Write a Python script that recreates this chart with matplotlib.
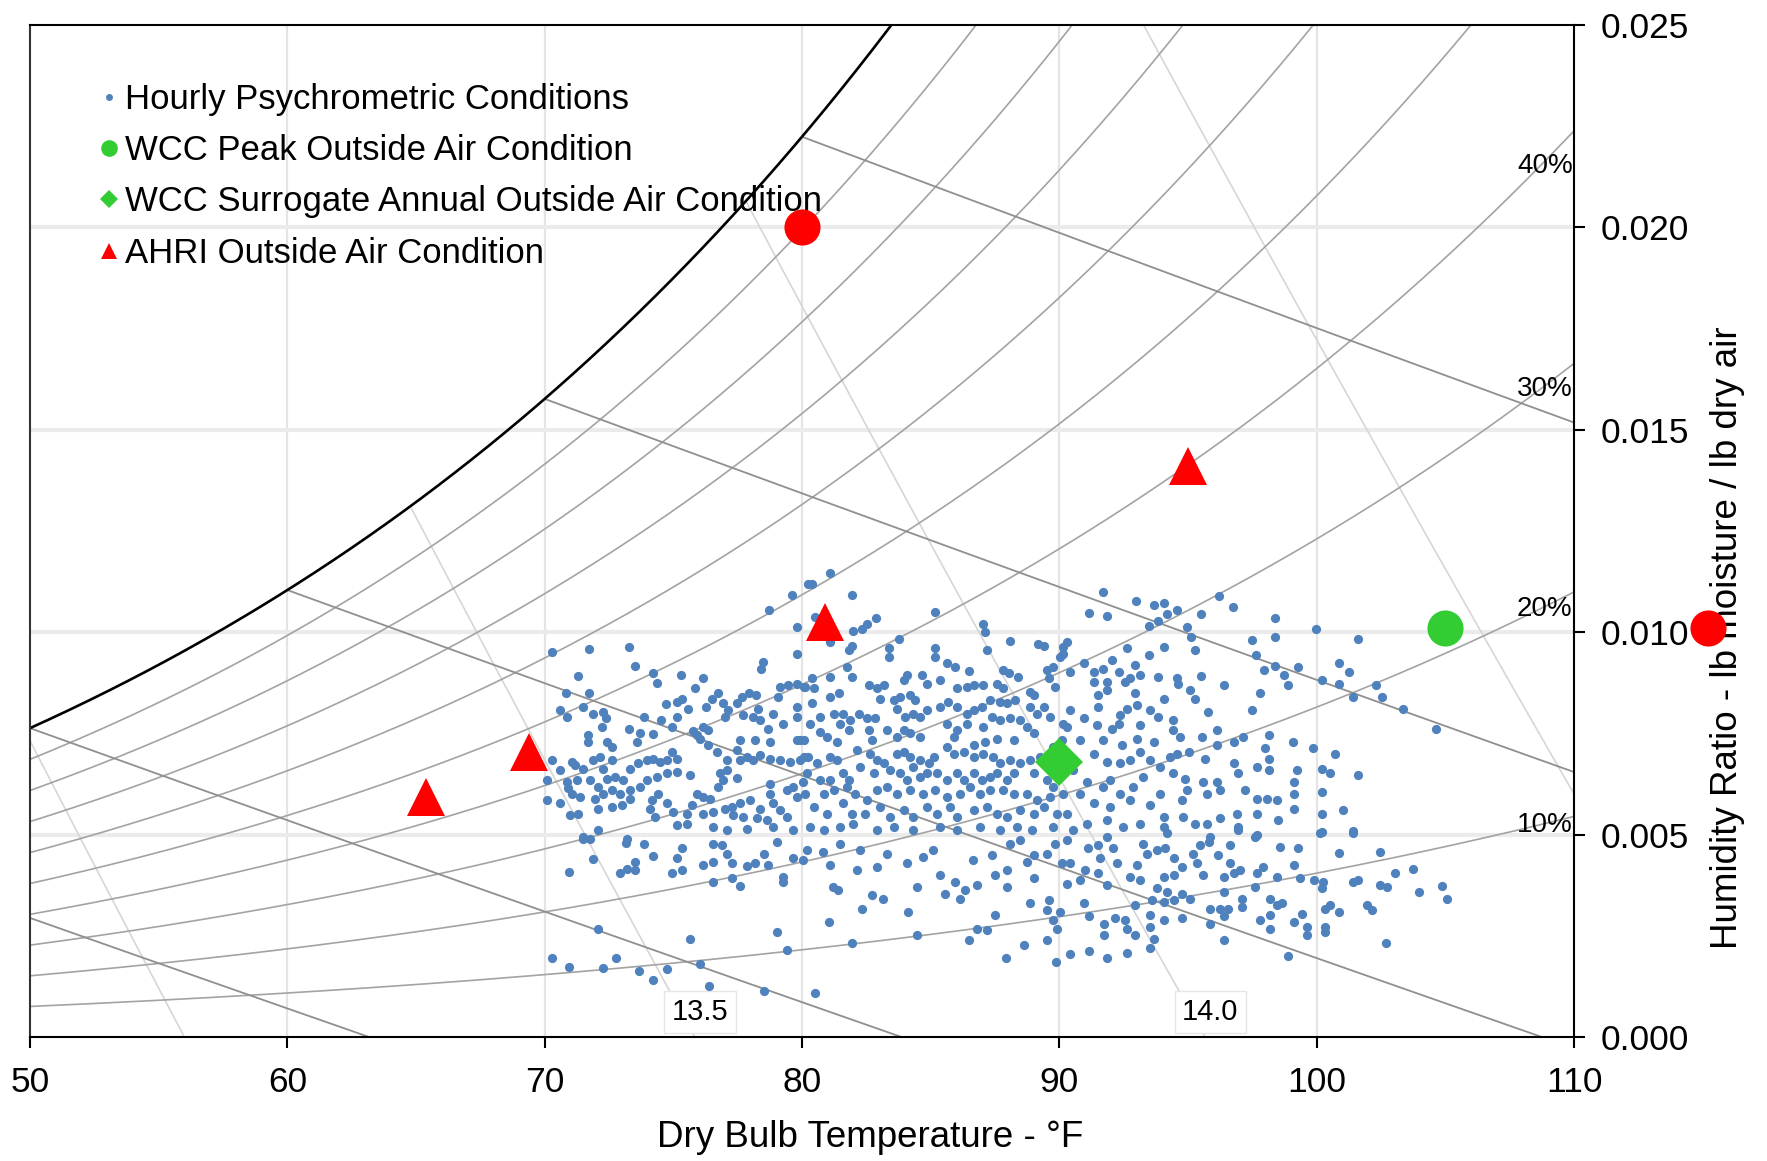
import numpy as np
import matplotlib
matplotlib.use("Agg")
import matplotlib.pyplot as plt
from matplotlib.lines import Line2D
from matplotlib.ticker import FormatStrFormatter

plt.rcParams['font.family'] = ['Liberation Sans', 'DejaVu Sans']

# ---------------- data ----------------
x_ticks = [50, 60, 70, 80, 90, 100, 110]
y_ticks = [0.000, 0.005, 0.010, 0.015, 0.020, 0.025]
rh_levels = [0.1, 0.2, 0.3, 0.4, 0.5, 0.6, 0.7, 0.8, 0.9]
rh_labels = {0.1: "10%", 0.2: "20%", 0.3: "30%", 0.4: "40%"}
wb_levels = [40, 50, 60, 70, 80]
vol_levels = [13.0, 13.5, 14.0, 14.5]
vol_labels = {13.5: "13.5", 14.0: "14.0"}

legend_labels = ["Hourly Psychrometric Conditions",
                 "WCC Peak Outside Air Condition",
                 "WCC Surrogate Annual Outside Air Condition",
                 "AHRI Outside Air Condition"]

peak_t = [105.0]
peak_w = [0.0101]
surrogate_t = [90.0]
surrogate_w = [0.0068]
ahri_t = [65.4, 69.4, 80.9, 95.0]
ahri_w = [0.00593, 0.00704, 0.01024, 0.01411]
red_circle_t = [80.0, 115.2]
red_circle_w = [0.0200, 0.0101]

# hourly conditions: (dry bulb degF, humidity ratio in 1e-3 lb/lb)
hourly = [
 (80.25,11.20),(79.63,10.92),(78.73,10.56),(79.79,10.12),(70.27,9.51),(71.72,9.58),(73.29,9.64),(79.79,9.45),
 (73.51,9.16),(78.47,9.27),(78.40,9.08),(71.31,8.91),(74.22,8.99),(74.38,8.75),(75.29,8.95),(76.17,8.86),
 (75.84,8.63),(70.83,8.50),(71.74,8.50),(70.60,8.07),(70.86,7.91),(71.50,8.14),(71.87,7.97),(72.28,8.03),
 (72.38,7.87),(72.22,7.66),(73.29,7.62),(73.86,7.91),(74.72,8.22),(75.13,8.28),(75.33,8.34),(75.58,8.11),
 (75.13,7.91),(74.94,7.66),(74.51,7.84),(73.71,7.50),(74.20,7.48),(73.58,7.29),(71.70,7.46),(71.70,7.29),
 (72.41,7.29),(72.60,7.17),(75.78,7.56),(75.91,7.46),(76.17,7.66),(76.36,7.58),(76.27,8.16),(76.49,8.36),
 (76.75,8.49),(76.92,8.25),(77.14,8.07),(77.01,7.91),(77.46,8.25),(77.66,8.40),(77.95,8.49),(78.21,8.44),
 (77.72,7.95),(78.11,7.91),(78.37,7.83),(78.69,7.62),(78.89,7.99),(78.30,8.11),(79.15,8.65),(79.47,8.69),
 (79.79,8.73),(80.12,8.65),(79.08,8.40),(79.28,7.74),(79.79,8.16),(79.79,7.91),(79.79,7.33),(79.92,7.33),
 (78.76,7.29),(78.17,7.33),(77.59,7.33),(77.46,7.08),(77.59,6.84),(77.85,6.92),(78.11,6.84),(78.37,6.96),
 (78.76,6.88),(79.15,6.84),(79.53,6.80),(79.92,6.84),(80.25,6.92),(77.07,6.84),(76.69,7.04),(76.36,7.21),
 (76.04,7.37),(70.27,6.84),(71.05,6.80),(71.18,6.71),(71.50,6.63),(71.89,6.84),(72.15,6.92),(72.60,6.84),
 (72.28,6.63),(70.60,6.59),(70.08,6.34),(70.86,6.30),(70.92,6.14),(71.24,6.34),(71.76,6.34),(72.09,6.18),
 (72.41,6.38),(72.73,6.43),(73.06,6.34),(73.32,6.63),(73.64,6.76),(73.97,6.84),(74.22,6.88),(74.48,6.80),
 (74.74,6.84),(74.94,7.04),(75.13,6.88),(75.13,6.55),(74.74,6.51),(74.35,6.43),(73.97,6.34),(73.71,6.18),
 (73.32,6.10),(72.93,6.01),(72.60,6.10),(72.28,6.01),(71.96,5.89),(71.37,5.93),(71.05,6.01),(70.08,5.85),
 (70.60,5.78),(70.99,5.48),(71.31,5.52),(72.09,5.64),(72.60,5.68),(72.99,5.73),(73.32,5.87),(74.16,5.85),
 (74.42,6.01),(74.09,5.64),(74.74,5.77),(75.00,5.56),(74.29,5.44),(75.65,6.47),(76.81,6.51),(77.07,6.59),
 (77.46,6.41),(76.94,6.34),(76.75,6.18),(75.91,6.01),(76.17,5.93),(76.43,5.89),(75.71,5.73),(75.52,5.52),
 (76.17,5.52),(76.56,5.56),(77.01,5.64),(77.27,5.68),(77.59,5.77),(77.98,5.85),(78.37,5.64),(78.76,6.26),
 (78.76,6.01),(78.89,5.77),(79.15,5.60),(79.41,6.10),(79.66,6.18),(79.79,5.93),(80.05,6.30),(77.33,5.48),
 (77.72,5.44),(78.24,5.40),(78.63,5.36),(78.89,5.19),(79.41,5.44),(75.13,5.23),(75.52,5.27),(76.56,5.19),
 (72.09,5.12),(71.50,4.94),(73.19,4.88),(77.07,5.11),(77.85,5.15),(79.66,5.11),
 (81.07,11.47),(80.38,11.20),(81.94,10.92),(80.51,10.38),(85.18,10.50),(87.05,10.21),(87.12,10.01),(82.88,10.36),
 (82.52,10.20),(82.33,10.09),(82.00,10.03),(81.10,9.76),(81.94,9.65),(81.81,9.57),(83.75,9.83),(83.40,9.62),
 (83.40,9.39),(85.18,9.62),(85.18,9.39),(87.18,9.57),(88.09,9.79),(89.19,9.72),(89.39,9.65),(90.16,9.64),
 (90.03,9.39),(81.74,9.14),(81.10,8.90),(81.94,8.90),(80.38,8.86),(80.06,8.65),(80.45,8.61),(82.59,8.69),
 (82.91,8.61),(83.17,8.69),(83.04,8.36),(84.08,8.94),(83.95,8.81),(84.66,8.94),(84.85,8.73),(85.37,8.81),
 (85.63,9.23),(85.95,9.13),(86.47,9.05),(86.02,8.61),(86.41,8.65),(86.67,8.69),(87.05,8.69),(87.57,8.73),
 (87.83,9.06),(88.03,8.98),(88.41,8.90),(89.52,9.06),(89.77,9.14),(89.58,8.86),(89.84,8.65),(88.87,8.53),
 (89.00,8.44),(87.83,8.61),(80.38,8.24),(81.10,8.40),(81.42,8.49),(80.71,7.91),(81.23,7.99),(81.61,7.99),
 (81.48,7.74),(81.87,7.83),(82.20,7.99),(82.52,7.87),(82.84,7.87),(83.56,8.32),(83.82,8.40),(84.20,8.44),
 (84.40,8.32),(83.69,8.11),(84.01,7.91),(84.33,7.99),(84.59,7.91),(84.85,8.07),(85.37,8.16),(85.69,8.28),
 (86.02,8.16),(86.41,7.99),(86.67,8.07),(86.99,8.16),(87.31,8.32),(87.70,8.28),(87.96,8.24),(88.28,8.32),
 (88.87,8.16),(89.13,7.99),(89.39,8.16),(89.65,7.91),(90.16,7.74),(80.32,7.74),(80.71,7.54),(80.06,7.33),
 (80.97,7.41),(81.35,7.29),(81.81,7.58),(82.59,7.58),(82.71,7.33),(83.30,7.58),(83.69,7.41),(83.95,7.58),
 (84.20,7.50),(84.59,7.41),(85.63,7.74),(85.89,7.41),(86.02,7.58),(86.41,7.74),(87.05,7.66),(87.38,7.91),
 (87.70,7.83),(88.09,7.87),(88.48,7.83),(88.74,7.66),(89.00,7.50),(88.22,7.33),(87.57,7.37),(87.12,7.29),
 (86.67,7.21),(80.06,6.92),(80.58,6.76),(81.10,6.92),(81.35,6.84),(82.13,7.08),(82.65,7.00),(82.91,6.84),
 (83.17,6.76),(83.69,7.00),(83.95,7.04),(84.20,6.92),(84.59,6.84),(84.92,6.76),(85.11,6.92),(85.63,7.17),
 (85.89,7.00),(86.28,7.04),(86.67,6.92),(87.05,7.00),(87.44,6.92),(87.70,6.76),(88.09,6.84),(88.48,6.76),
 (88.87,6.84),(89.26,6.92),(89.77,7.17),(90.10,7.33),(80.19,6.51),(80.71,6.34),(81.10,6.34),(81.61,6.51),
 (81.81,6.34),(82.26,6.67),(82.78,6.51),(83.43,6.59),(83.82,6.51),(84.08,6.34),(84.33,6.67),(84.59,6.43),
 (84.85,6.51),(85.24,6.51),(85.63,6.34),(86.02,6.51),(86.28,6.34),(86.67,6.51),(86.99,6.34),(87.31,6.43),
 (87.57,6.51),(87.96,6.34),(88.22,6.51),(89.00,6.51),(89.52,6.34),(89.77,6.18),(80.12,6.01),(80.84,6.01),
 (81.23,6.10),(81.74,6.18),(82.07,6.01),(82.52,5.85),(82.91,6.10),(83.30,6.18),(83.69,6.01),(84.20,6.10),
 (84.72,6.01),(85.18,6.10),(85.63,5.93),(86.15,6.01),(86.54,6.18),(86.92,6.01),(87.31,6.10),(87.83,6.10),
 (88.22,6.01),(88.74,6.01),(89.13,5.85),(89.65,5.93),(90.16,6.01),(80.45,5.68),(80.97,5.52),(81.61,5.77),
 (81.94,5.52),(82.46,5.52),(83.04,5.68),(83.43,5.44),(83.95,5.60),(84.33,5.44),(84.85,5.68),(85.24,5.52),
 (85.76,5.68),(86.02,5.44),(86.67,5.60),(87.18,5.68),(87.57,5.52),(87.96,5.44),(88.48,5.60),(89.00,5.52),
 (89.39,5.68),(89.90,5.52),(80.32,5.19),(80.84,5.11),(81.48,5.19),(82.00,5.27),(82.91,5.11),(83.56,5.19),
 (84.33,5.11),(85.37,5.19),(86.02,5.11),(86.92,5.19),(87.70,5.11),(88.35,5.19),(88.94,5.11),(89.77,5.19),
 (91.71,11.00),(92.98,10.78),(93.66,10.67),(94.07,10.71),(94.59,10.54),(94.20,10.46),(93.85,10.28),(93.50,10.15),
 (91.17,10.48),(91.87,10.40),(95.50,10.45),(96.20,10.89),(96.74,10.63),(98.38,10.34),(98.38,9.89),(97.48,9.80),
 (99.97,10.09),(101.62,9.83),(94.95,10.13),(95.11,9.89),(95.28,9.57),(92.62,9.62),(94.05,9.64),(93.50,9.43),
 (90.29,9.76),(90.16,9.47),(90.96,9.23),(90.42,9.02),(91.33,9.02),(91.71,9.10),(92.04,9.31),(92.30,9.02),
 (92.94,9.19),(93.14,8.94),(92.75,8.86),(92.56,8.77),(91.84,8.77),(91.33,8.77),(91.84,8.57),(91.52,8.44),
 (93.85,8.90),(94.56,8.86),(94.63,8.73),(95.50,8.91),(96.38,8.69),(95.08,8.57),(95.28,8.36),(94.07,8.36),
 (92.94,8.50),(93.01,8.20),(92.62,8.11),(92.36,7.95),(91.52,8.16),(90.42,8.07),(90.94,7.87),(90.29,7.66),
 (91.45,7.70),(92.04,7.62),(92.30,7.74),(93.14,7.70),(93.53,8.07),(93.85,7.91),(94.41,7.84),(94.43,7.58),
 (94.69,7.41),(93.66,7.29),(93.01,7.37),(92.43,7.21),(91.71,7.33),(90.81,7.33),(91.33,7.00),(91.84,6.80),
 (92.36,6.76),(92.75,6.84),(93.14,7.04),(93.53,6.84),(93.92,6.67),(94.30,6.92),(94.56,7.00),(95.02,7.04),
 (95.54,7.41),(95.79,8.03),(96.12,7.58),(96.12,7.21),(96.77,7.29),(97.15,7.41),(97.48,8.07),(97.80,8.49),
 (97.65,9.43),(97.96,9.06),(98.38,9.16),(98.73,8.94),(98.88,8.69),(99.27,9.14),(100.20,8.81),(100.88,9.23),
 (100.88,8.72),(101.27,9.02),(101.43,8.40),(102.31,8.69),(102.53,8.40),(103.37,8.11),(104.64,7.62),(98.16,7.46),
 (98.00,7.13),(98.16,6.88),(98.16,6.59),(99.07,7.29),(99.84,7.13),(100.72,7.00),(99.25,6.59),(100.20,6.63),
 (100.52,6.51),(101.62,6.47),(95.66,6.88),(96.77,6.76),(96.96,6.51),(97.67,6.67),(99.10,6.30),(99.10,6.01),
 (99.10,5.64),(100.20,6.06),(100.20,5.52),(101.04,5.62),(100.20,5.07),(101.40,5.09),(98.51,5.36),(97.67,5.52),
 (96.96,5.19),(96.25,5.40),(95.73,5.27),(95.28,5.27),(94.89,6.38),(95.60,6.30),(96.12,6.30),(94.95,6.10),
 (94.76,5.85),(95.73,6.01),(96.25,6.10),(97.22,6.10),(97.67,5.89),(98.45,5.85),(98.06,5.89),(94.43,6.51),
 (93.27,6.43),(92.88,6.18),(92.36,6.01),(91.97,6.34),(91.71,6.18),(91.07,6.30),(90.81,6.01),(90.55,6.59),
 (90.29,6.84),(91.33,5.77),(91.97,5.68),(92.75,5.85),(93.53,5.73),(93.92,6.01),(94.05,5.44),(93.14,5.27),
 (92.49,5.19),(91.84,5.36),(91.07,5.27),(90.29,5.52),(90.55,5.11),(94.05,5.19),(94.82,5.44),(95.86,4.94),
 (96.90,5.52),(97.67,4.98),
 (71.50,4.90),(71.76,4.90),(73.16,4.80),(73.86,4.78),(70.96,4.08),(71.87,4.39),(72.93,4.04),(73.21,4.16),
 (73.51,4.12),(73.51,4.33),(74.22,4.47),(74.94,4.06),(75.33,4.12),(75.13,4.43),(75.33,4.66),(76.17,4.25),
 (76.56,4.33),(76.56,4.78),(76.88,4.74),(77.07,4.53),(77.27,4.29),(76.56,3.83),(77.27,3.92),(77.59,3.73),
 (77.85,4.22),(78.17,4.29),(78.69,4.25),(79.28,3.96),(79.28,3.83),(78.52,4.53),(79.04,4.82),(79.66,4.41),
 (80.05,4.37),(80.18,4.62),(80.83,4.57),(81.09,4.25),(81.22,3.71),(81.41,3.63),(82.13,4.12),(82.32,3.17),
 (82.71,3.50),(83.16,3.42),(82.90,4.20),(83.29,4.53),(84.13,3.09),(84.46,3.71),(85.36,4.00),(85.56,3.54),
 (85.95,3.83),(86.14,3.42),(86.34,3.63),(86.79,3.75),(86.66,4.37),(87.37,4.49),(87.50,4.00),(87.50,3.01),
 (81.06,2.84),(81.93,2.33),(84.46,2.52),(86.47,2.39),(86.79,2.68),(87.18,2.64),(72.09,2.68),(75.65,2.43),
 (79.04,2.60),(79.41,2.14),(70.27,1.96),(70.96,1.73),(72.26,1.71),(72.77,1.96),(73.68,1.63),(74.22,1.40),
 (74.74,1.68),(76.04,1.80),(76.40,1.25),(78.52,1.14),(80.51,1.09),(84.07,4.29),(84.72,4.45),(85.10,4.62),
 (82.26,4.62),(81.48,4.78),
 (88.09,4.78),(88.48,4.86),(89.00,4.49),(87.96,4.12),(88.74,4.33),(89.00,3.92),(87.96,3.71),(89.51,4.53),
 (89.84,4.78),(90.29,4.86),(90.10,4.29),(90.42,4.29),(90.81,3.87),(90.29,3.79),(88.87,3.30),(89.58,3.38),
 (89.51,3.13),(89.77,2.89),(89.90,2.68),(90.03,3.09),(91.13,4.66),(91.52,4.74),(91.59,4.41),(92.10,4.66),
 (91.85,4.95),(92.23,4.29),(91.00,4.12),(91.52,4.04),(91.85,3.75),(90.94,3.30),(91.17,2.98),(91.72,2.80),
 (91.72,2.52),(92.17,2.95),(92.56,2.89),(92.62,2.68),(92.95,2.52),(92.95,3.26),(92.75,3.96),(93.01,4.25),
 (93.14,3.87),(93.40,4.53),(93.27,4.78),(93.79,4.62),(94.11,4.66),(94.44,4.41),(94.76,4.20),(94.05,3.96),
 (94.44,4.00),(93.79,3.67),(94.18,3.59),(93.59,3.38),(94.05,3.34),(94.44,3.38),(94.76,3.54),(95.08,3.42),
 (94.76,2.93),(93.53,3.01),(94.05,2.89),(93.53,2.72),(93.66,2.43),(93.53,2.19),(92.62,2.08),(91.85,1.94),
 (91.17,2.13),(90.42,2.05),(89.88,1.86),(89.51,2.39),(88.63,2.27),(87.93,1.96),(95.21,4.53),(95.47,4.74),
 (95.80,4.82),(95.34,4.29),(95.60,4.00),(96.18,4.49),(96.64,4.74),(96.64,4.29),(96.38,3.96),(96.38,3.59),
 (96.77,4.04),(97.03,4.12),(97.67,4.04),(97.93,4.20),(97.61,3.71),(98.19,3.42),(98.58,4.70),(99.29,4.66),
 (98.45,3.96),(99.10,4.25),(99.36,3.92),(99.88,3.87),(100.26,3.83),(100.20,3.67),(100.33,3.17),(100.85,3.09),
 (100.52,3.26),(101.43,3.83),(101.62,3.87),(101.95,3.26),(102.14,3.13),(102.47,3.75),(102.73,3.71),(103.05,4.04),
 (103.76,4.14),(103.96,3.59),(104.86,3.73),(105.06,3.42),(100.85,4.55),(102.47,4.57),(97.80,2.89),(98.19,2.68),
 (98.19,3.01),(99.10,2.84),(99.42,3.05),(99.62,2.72),(99.62,2.52),(100.33,2.72),(100.33,2.60),(98.65,3.30),
 (98.45,3.26),(97.09,3.42),(97.09,3.22),(95.86,3.17),(96.25,3.17),(96.57,3.17),(96.38,2.98),(95.86,2.80),
 (96.40,2.39),(98.87,2.00),(102.70,2.31),(97.61,4.95),(100.14,5.03),(101.43,5.03),(96.96,5.11),(94.18,5.03),
]

# ---------------- psychrometrics (sea level) ----------------
P_ATM = 14.696


def p_ws(t_f):
    T = np.asarray(t_f, dtype=float) + 459.67
    C8, C9, C10 = -1.0440397e4, -1.1294650e1, -2.7022355e-2
    C11, C12, C13 = 1.2890360e-5, -2.4780681e-9, 6.5459673
    return np.exp(C8 / T + C9 + C10 * T + C11 * T**2 + C12 * T**3 + C13 * np.log(T))


def w_rh(t_f, rh):
    pw = rh * p_ws(t_f)
    return 0.621945 * pw / (P_ATM - pw)


def w_wetbulb(t_f, twb):
    ws = w_rh(twb, 1.0)
    return ((1093 - 0.556 * twb) * ws - 0.240 * (t_f - twb)) / (1093 + 0.444 * t_f - twb)


def w_volume(t_f, v):
    return (v * P_ATM / (0.370486 * (t_f + 459.67)) - 1.0) / 1.607858


# ---------------- figure ----------------
BLUE = '#4f81bd'
GREEN = '#33cc33'
RED = '#ff0000'

fig = plt.figure(figsize=(17.67, 11.61), dpi=100)
ax = fig.add_axes([0.01698, 0.10680, 0.87380, 0.87166])
ax.set_xlim(50, 110)
ax.set_ylim(0, 0.025)

for xv in x_ticks[1:-1]:
    ax.axvline(xv, color='#e4e4e4', lw=1.6, zorder=0)
for yv in y_ticks[1:-1]:
    ax.axhline(yv, color='#ebebeb', lw=3.0, zorder=0)

tt = np.linspace(40, 120, 1600)
wsat = w_rh(tt, 1.0)

# specific volume lines
for v in vol_levels:
    wv = w_volume(tt, v)
    m = (wv >= 0) & (wv <= wsat)
    ax.plot(tt[m], wv[m], color='#d6d6d6', lw=1.2, zorder=1)
    if v in vol_labels:
        t0 = v * P_ATM / 0.370486 - 459.67
        ax.text(t0 + 0.2, 0.00062, vol_labels[v], fontsize=21, ha='center', va='center',
                zorder=3, bbox=dict(boxstyle='square,pad=0.25', fc='white', ec='#e6e6e6', lw=1))

# relative humidity curves
for rh in rh_levels:
    ax.plot(tt, w_rh(tt, rh), color='#a3a3a3', lw=1.2, zorder=1)
    if rh in rh_labels:
        ax.text(109.95, w_rh(108.7, rh), rh_labels[rh], fontsize=20, ha='right', va='center', zorder=3)

# wet bulb lines
for twb in wb_levels:
    tw = tt[tt >= twb]
    ww = w_wetbulb(tw, twb)
    m = ww >= 0
    ax.plot(tw[m], ww[m], color='#8f8f8f', lw=1.3, zorder=1)

# saturation curve
ax.plot(tt, wsat, color='black', lw=1.9, zorder=2)

# hourly data
h_t = [p[0] for p in hourly]
h_w = [p[1] / 1000.0 for p in hourly]
ax.scatter(h_t, h_w, s=44, color=BLUE, linewidths=0, zorder=4)

ax.plot(surrogate_t, surrogate_w, ls='none', marker='D', ms=24, color=GREEN, mew=0, zorder=6)
ax.plot(peak_t, peak_w, ls='none', marker='o', ms=26, color=GREEN, mew=0, zorder=6)
ax.plot(ahri_t, ahri_w, ls='none', marker='^', ms=27, color=RED, mew=0, zorder=6)
ax.plot(red_circle_t, red_circle_w, ls='none', marker='o', ms=26, color=RED, mew=0,
        zorder=10, clip_on=False)

# axes styling
ax.set_xticks(x_ticks)
ax.set_yticks(y_ticks)
ax.yaxis.set_major_formatter(FormatStrFormatter('%.3f'))
ax.yaxis.tick_right()
ax.yaxis.set_label_position('right')
ax.tick_params(axis='both', direction='out', length=8, width=1.5, labelsize=25.5, pad=11, colors='black')
ax.tick_params(axis='x', pad=13)
for s in ax.spines.values():
    s.set_linewidth(1.5)
    s.set_color('black')
ax.spines['left'].set_color('#333333')

ax.set_xlabel('Dry Bulb Temperature - °F', fontsize=26.5)
ax.xaxis.set_label_coords(0.544, -0.082)
ax.set_ylabel('Humidity Ratio - lb moisture / lb dry air', fontsize=26.5)
ax.yaxis.set_label_coords(1.088, 0.395)

handles = [
    Line2D([], [], ls='none', marker='o', ms=5, color=BLUE, mew=0),
    Line2D([], [], ls='none', marker='o', ms=12, color=GREEN, mew=0),
    Line2D([], [], ls='none', marker='D', ms=9, color=GREEN, mew=0),
    Line2D([], [], ls='none', marker='^', ms=12, color=RED, mew=0),
]
leg = ax.legend(handles, legend_labels, loc='upper left', bbox_to_anchor=(0.043, 0.943),
                frameon=False, fontsize=25, handlelength=0.7, handletextpad=0.12,
                labelspacing=0.53, borderaxespad=0, borderpad=0)
leg.set_zorder(8)

fig.savefig('out.png', dpi=100)
